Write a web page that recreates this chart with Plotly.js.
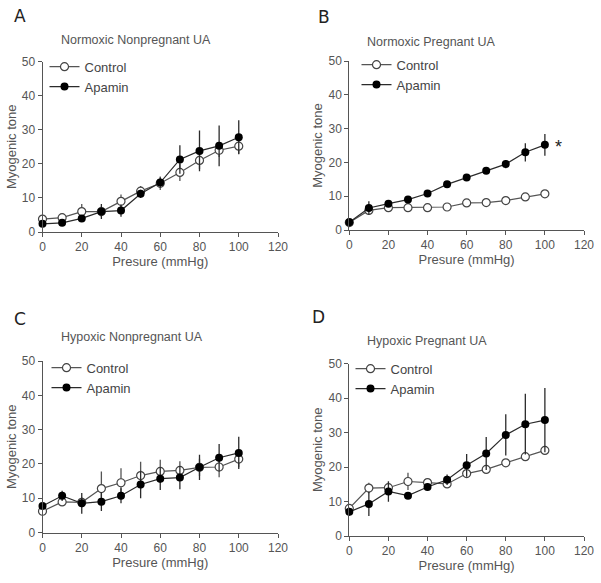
<!DOCTYPE html>
<html>
<head>
<meta charset="utf-8">
<script src="https://cdn.plot.ly/plotly-3.0.1.min.js"></script>
<style>html,body{margin:0;padding:0;background:#fff;}#chart{width:601px;height:583px;}</style>
</head>
<body>
<div id="chart"></div>
<script>
// Shared x values: pressure (mmHg)
const pressure = [0, 10, 20, 30, 40, 50, 60, 70, 80, 90, 100];

// Panel A: Normoxic Nonpregnant UA
const aControl    = [3.8, 4.2, 6.0, 6.0, 9.0, 12.0, 14.3, 17.5, 21.0, 24.0, 25.2];
const aControlErr = [0.8, 0.9, 2.2, 1.5, 2.0, 1.5, 2.0, 2.5, 2.5, 2.0, 2.2];
const aApamin     = [2.4, 2.7, 4.0, 6.0, 6.3, 11.2, 14.5, 21.3, 23.8, 25.3, 27.8];
const aApaminErr  = [0.8, 0.8, 1.0, 2.2, 1.8, 1.2, 1.5, 4.2, 6.0, 6.0, 5.0];

// Panel B: Normoxic Pregnant UA
const bControl    = [2.2, 5.8, 6.6, 6.6, 6.6, 6.8, 8.0, 8.1, 8.7, 9.8, 10.7];
const bControlErr = [0.5, 0.8, 0.6, 0.6, 0.8, 0.8, 0.6, 0.6, 0.6, 0.6, 0.8];
const bApamin     = [2.3, 6.5, 7.8, 9.0, 10.8, 13.5, 15.5, 17.5, 19.5, 23.0, 25.2];
const bApaminErr  = [0.5, 2.0, 0.8, 0.8, 0.8, 0.8, 0.8, 0.8, 1.2, 2.7, 3.2];

// Panel C: Hypoxic Nonpregnant UA
const cControl    = [6.2, 8.9, 8.8, 12.8, 14.5, 16.6, 17.8, 18.1, 19.0, 19.1, 21.4];
const cControlErr = [1.0, 1.2, 1.5, 5.0, 4.2, 4.0, 3.4, 2.7, 2.5, 3.0, 2.4];
const cApamin     = [7.7, 10.7, 8.5, 9.0, 10.7, 14.0, 15.7, 16.0, 19.0, 21.8, 23.2];
const cApaminErr  = [1.2, 1.5, 3.0, 2.7, 2.2, 4.0, 3.3, 3.4, 3.7, 4.0, 4.7];

// Panel D: Hypoxic Pregnant UA
const dControl    = [8.0, 13.9, 14.0, 15.8, 15.5, 15.1, 18.1, 19.3, 21.2, 23.0, 24.8];
const dControlErr = [1.0, 1.5, 1.5, 2.5, 1.2, 1.0, 1.0, 1.0, 1.0, 1.0, 1.2];
const dApamin     = [7.0, 9.3, 12.9, 11.7, 14.2, 16.3, 20.5, 23.9, 29.3, 32.4, 33.6];
const dApaminErr  = [1.2, 3.5, 3.0, 1.0, 1.0, 1.5, 3.3, 4.8, 6.0, 8.8, 9.3];

const panelTitles = ["Normoxic Nonpregnant UA", "Normoxic Pregnant UA", "Hypoxic Nonpregnant UA", "Hypoxic Pregnant UA"];
const panelLetters = ["A", "B", "C", "D"];
const seriesNames = ["Control", "Apamin"];
const xTitle = "Presure (mmHg)";
const yTitle = "Myogenic tone";
const xTicks = [0, 20, 40, 60, 80, 100, 120];
const yTicks = [0, 10, 20, 30, 40, 50];

const panels = [
  [aControl, aControlErr, aApamin, aApaminErr],
  [bControl, bControlErr, bApamin, bApaminErr],
  [cControl, cControlErr, cApamin, cApaminErr],
  [dControl, dControlErr, dApamin, dApaminErr]
];

const ink = '#2b2b2b';
const font = 'Arial, Liberation Sans, sans-serif';

const traces = [];
panels.forEach((p, i) => {
  const xa = i === 0 ? 'x' : 'x' + (i + 1);
  const ya = i === 0 ? 'y' : 'y' + (i + 1);
  const lg = i === 0 ? 'legend' : 'legend' + (i + 1);
  traces.push({
    x: pressure, y: p[0], name: seriesNames[0], xaxis: xa, yaxis: ya, legend: lg,
    type: 'scatter', mode: 'lines+markers', cliponaxis: false,
    line: {color: '#555', width: 1.2},
    marker: {symbol: 'circle', size: 8, color: '#fff', line: {color: '#444', width: 1.2}},
    error_y: {type: 'data', array: p[1], visible: true, color: '#555', thickness: 1.3, width: 0}
  });
  traces.push({
    x: pressure, y: p[2], name: seriesNames[1], xaxis: xa, yaxis: ya, legend: lg,
    type: 'scatter', mode: 'lines+markers', cliponaxis: false,
    line: {color: ink, width: 1.2},
    marker: {symbol: 'circle', size: 8, color: '#000', line: {color: '#000', width: 0}},
    error_y: {type: 'data', array: p[3], visible: true, color: ink, thickness: 1.3, width: 0}
  });
});

// Axis pixel geometry (figure 601 x 583)
const W = 601, H = 583;
const xPix = [[42.5, 278], [349.3, 584], [42.5, 278], [349.3, 584]];
const yPix = [[232, 61.7], [230, 61], [532.5, 361], [536, 363.5]]; // [bottom(0), top(50)]
const legendLeft = [44.5, 356.5, 46.5, 350.5];
const legendTop = [51.7, 49.7, 352.7, 353.7];
const titleY = [40, 42, 337, 341];
const letterX = [12, 316, 12, 310];
const letterY = [16, 17, 319, 317];

const layout = {
  width: W, height: H,
  margin: {l: 0, r: 0, t: 0, b: 0},
  paper_bgcolor: '#fff', plot_bgcolor: 'rgba(0,0,0,0)',
  font: {family: font, color: '#444', size: 12},
  showlegend: true,
  annotations: [],
};

const axisCommon = {
  showgrid: false, zeroline: false, showline: true, linecolor: '#555', linewidth: 1,
  ticks: 'outside', ticklen: 4, tickwidth: 1, tickcolor: '#555',
  tickfont: {family: font, size: 12, color: '#555'},
  fixedrange: true
};

for (let i = 0; i < 4; i++) {
  const sfx = i === 0 ? '' : String(i + 1);
  const xd = [xPix[i][0] / W, xPix[i][1] / W];
  const yd = [(H - yPix[i][0]) / H, (H - yPix[i][1]) / H];
  layout['xaxis' + sfx] = Object.assign({}, axisCommon, {
    domain: xd, range: [0, 120], tickvals: xTicks, anchor: 'y' + sfx,
    title: {text: xTitle, font: {family: font, size: 13, color: '#555'}, standoff: 3}
  });
  layout['yaxis' + sfx] = Object.assign({}, axisCommon, {
    domain: yd, range: [0, 50], tickvals: yTicks, anchor: 'x' + sfx,
    title: {text: yTitle, font: {family: font, size: 13, color: '#555'}, standoff: 2}
  });
  layout['legend' + sfx] = {
    x: legendLeft[i] / W, y: (H - legendTop[i]) / H, xanchor: 'left', yanchor: 'top',
    bgcolor: 'rgba(0,0,0,0)', borderwidth: 0,
    font: {family: font, size: 13, color: '#444'},
    itemwidth: 30, tracegroupgap: 0
  };
  layout.annotations.push({
    text: panelTitles[i], xref: 'paper', yref: 'paper',
    x: (xPix[i][0] + 16) / W, y: (H - titleY[i]) / H,
    xanchor: 'left', yanchor: 'middle', showarrow: false,
    font: {family: font, size: 12.5, color: '#555'}
  });
  layout.annotations.push({
    text: panelLetters[i], xref: 'paper', yref: 'paper',
    x: letterX[i] / W, y: (H - letterY[i]) / H,
    xanchor: 'left', yanchor: 'middle', showarrow: false,
    font: {family: 'DejaVu Sans, sans-serif', size: 17, color: '#222'}
  });
}

// significance star on panel B
layout.annotations.push({
  text: '*', xref: 'x2', yref: 'y2', x: 107, y: 24.5,
  showarrow: false, font: {family: font, size: 18, color: '#222'}
});

Plotly.newPlot('chart', traces, layout, {staticPlot: true, displayModeBar: false});
</script>
</body>
</html>
